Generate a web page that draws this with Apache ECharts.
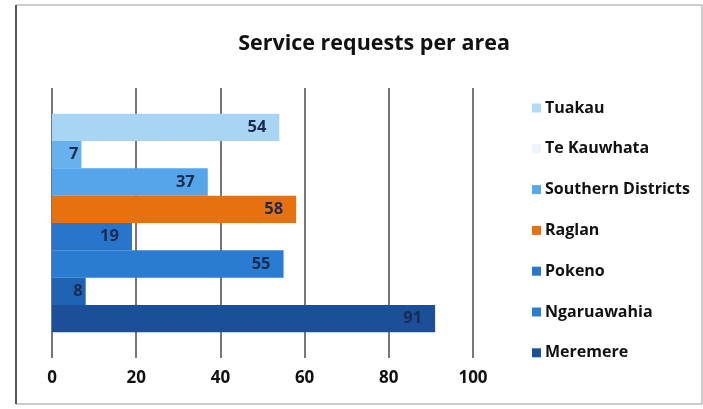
<!DOCTYPE html>
<html><head><meta charset="utf-8">
<script src="https://cdn.jsdelivr.net/npm/echarts@6/dist/echarts.min.js"></script>
<style>html,body{margin:0;padding:0;background:#fff}#c{width:703px;height:409px}</style>
</head><body><div id="c"></div>
<script>
// Bars top to bottom
const barNames = ['Tuakau', 'Te Kauwhata', 'Southern Districts', 'Raglan', 'Pokeno', 'Ngaruawahia', 'Meremere (2)', 'Meremere'];
const barValues = [54, 7, 37, 58, 19, 55, 8, 91];
const barColors = ['#a9d5f5', '#67b1ec', '#55a5ea', '#e8700e', '#2776cc', '#2a7bd2', '#1f63b4', '#1c4f99'];
const legendNames = ['Tuakau', 'Te Kauwhata', 'Southern Districts', 'Raglan', 'Pokeno', 'Ngaruawahia', 'Meremere'];
const legendColors = ['#b3dbf7', '#eef4fa', '#5aa8ea', '#e8700e', '#2776cc', '#2a7bd2', '#1c4f99'];
const xTicks = [0, 20, 40, 60, 80, 100];

const FONT = 'Open Sans';
const series = barNames.map((n, i) => ({
  name: n,
  type: 'bar',
  data: [barValues[i]],
  barGap: '0%',
  barCategoryGap: '19%',
  itemStyle: { color: barColors[i] },
  label: { show: true, position: 'insideRight', distance: barValues[i] < 10 ? 3 : 13,
    fontFamily: FONT, fontWeight: 'bold', fontSize: 16.5, color: '#1b2b4d' }
}));
const chart = echarts.init(document.getElementById('c'));
chart.setOption({
  animation: false,
  title: { text: 'Service requests per area', left: 369, textAlign: 'center', top: 28,
    textStyle: { fontFamily: FONT, fontWeight: 'bold', fontSize: 21.5, color: '#111' } },
  grid: { left: 52, right: 230, top: 88, bottom: 51 },
  legend: {
    data: legendNames.map((n, i) => ({ name: n, itemStyle: { color: legendColors[i] } })),
    orient: 'vertical', left: 532, top: 100, padding: 0, itemWidth: 9, itemHeight: 9, itemGap: 24.8, icon: 'rect',
    textStyle: { fontFamily: FONT, fontWeight: 'bold', fontSize: 16, lineHeight: 16, color: '#111', padding: [0, 0, 0, -1] }
  },
  xAxis: { type: 'value', min: 0, max: 100, interval: 20,
    axisLine: { show: false }, axisTick: { show: false },
    splitLine: { lineStyle: { color: '#4a4a4a', width: 1.5 } },
    axisLabel: { formatter: v => xTicks.includes(v) ? String(v) : '', fontFamily: FONT, fontWeight: 'bold', fontSize: 17, color: '#111', margin: 12 } },
  yAxis: { type: 'category', data: ['all'], inverse: true, axisLine: { show: false }, axisTick: { show: false }, axisLabel: { show: false } },
  graphic: [
    { type: 'rect', shape: { x: 16, y: 5, width: 686, height: 399 }, style: { fill: 'none', stroke: '#999', lineWidth: 1 } },
    { type: 'line', shape: { x1: 16, y1: 5, x2: 16, y2: 404 }, style: { stroke: '#555', lineWidth: 2 } }
  ],
  series: series
});
</script></body></html>
